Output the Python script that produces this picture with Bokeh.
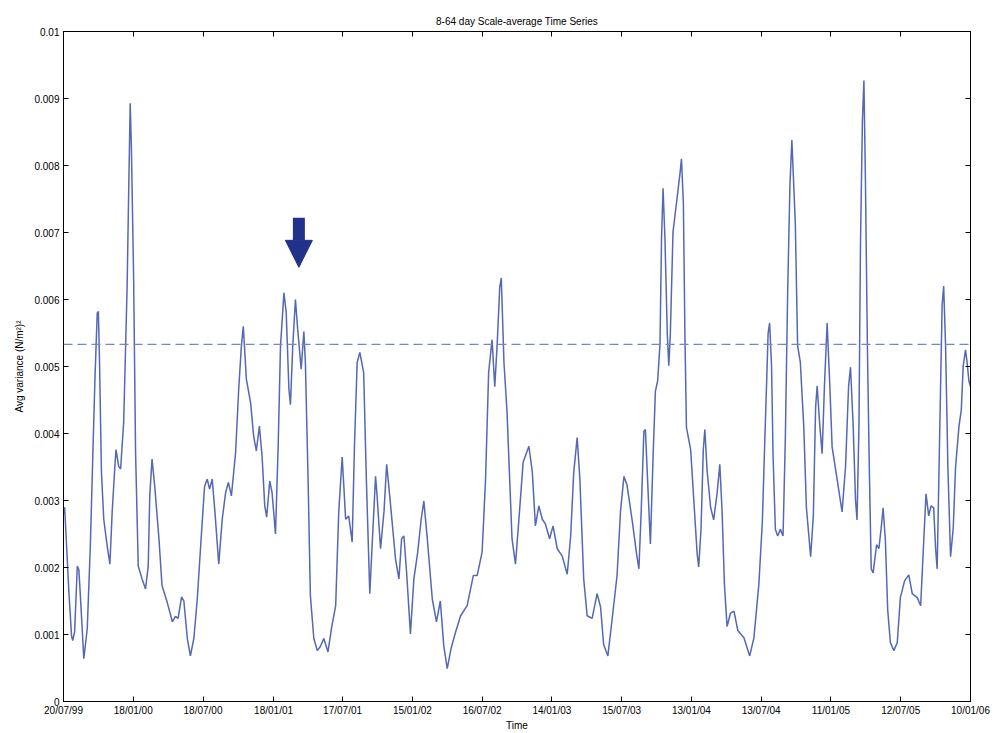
from datetime import datetime
from bokeh.plotting import figure
from bokeh.models import (FixedTicker, LinearAxis, Span, Arrow, NormalHead)
from bokeh.embed import file_html
from bokeh.resources import INLINE

# ---------------- data ----------------
start_label = "20/07/99"
x_tick_labels = ["20/07/99", "18/01/00", "18/07/00", "18/01/01", "17/07/01", "15/01/02",
                 "16/07/02", "14/01/03", "15/07/03", "13/01/04", "13/07/04", "11/01/05",
                 "12/07/05", "10/01/06"]
y_ticks = [0, 0.001, 0.002, 0.003, 0.004, 0.005, 0.006, 0.007, 0.008, 0.009, 0.01]
y_tick_labels = ["0", "0.001", "0.002", "0.003", "0.004", "0.005", "0.006", "0.007",
                 "0.008", "0.009", "0.01"]

# days since 20/07/99
days = [0, 3, 14, 21, 24, 29, 36, 40, 44, 53, 62, 70, 76, 82, 88, 91, 94, 99, 105, 114,
        121, 127, 134, 137, 144, 149, 157, 162, 166, 170, 174, 177, 183, 188, 195, 205,
        214, 221, 225, 231, 238, 249, 257, 270, 284, 292, 299, 308, 314, 323, 331, 340,
        349, 359, 368, 375, 381, 388, 395, 405, 414, 423, 430, 438, 449, 457, 464, 469,
        477, 488, 496, 503, 511, 518, 525, 530, 538, 544, 553, 560, 566, 575, 581, 588,
        592, 598, 605, 611, 620, 627, 631, 638, 644, 653, 662, 670, 679, 690, 699, 710,
        718, 727, 736, 744, 753, 759, 766, 773, 783, 790, 799, 805, 814, 818, 827, 836,
        843, 851, 866, 875, 882, 888, 895, 905, 914, 924, 933, 940, 949, 962, 973, 983,
        992, 1001, 1011, 1023, 1036, 1053, 1069, 1079, 1092, 1101, 1109, 1118, 1125, 1131,
        1138, 1142, 1149, 1157, 1170, 1179, 1188, 1199, 1214, 1223, 1231, 1240, 1249, 1257,
        1268, 1277, 1288, 1301, 1314, 1323, 1331, 1340, 1347, 1357, 1366, 1379, 1392, 1401,
        1409, 1420, 1431, 1444, 1453, 1462, 1470, 1484, 1495, 1501, 1507, 1514, 1518, 1523,
        1531, 1538, 1544, 1550, 1556, 1560, 1564, 1569, 1575, 1579, 1583, 1590, 1599, 1608,
        1612, 1617, 1621, 1625, 1636, 1646, 1653, 1657, 1663, 1669, 1673, 1679, 1688, 1696,
        1705, 1712, 1718, 1724, 1731, 1740, 1749, 1759, 1775, 1790, 1801, 1814, 1823, 1829,
        1834, 1838, 1842, 1847, 1851, 1857, 1863, 1870, 1877, 1883, 1889, 1895, 1900, 1909,
        1915, 1922, 1931, 1938, 1949, 1956, 1962, 1966, 1973, 1979, 1985, 1992, 1999, 2005,
        2018, 2031, 2040, 2048, 2053, 2060, 2066, 2070, 2075, 2079, 2084, 2088, 2092, 2097,
        2102, 2107, 2112, 2121, 2127, 2133, 2138, 2144, 2150, 2157, 2166, 2175, 2183, 2194,
        2205, 2214, 2227, 2236, 2243, 2250, 2257, 2263, 2270, 2275, 2279, 2286, 2292, 2296,
        2301, 2307, 2314, 2321, 2327, 2336, 2342, 2347, 2353, 2357, 2362, 2366]

variance = [0.0028, 0.0029, 0.00164, 0.00098, 0.00091, 0.00104, 0.00202, 0.00197, 0.00158,
            0.00064, 0.00109, 0.00232, 0.00357, 0.00481, 0.0058, 0.00582, 0.00506, 0.00342,
            0.00272, 0.00232, 0.00205, 0.00283, 0.00351, 0.00376, 0.00351, 0.00347, 0.00417,
            0.0053, 0.0062, 0.0076, 0.00893, 0.0083, 0.0063, 0.00372, 0.00202, 0.00183,
            0.00168, 0.00202, 0.00307, 0.00362, 0.00321, 0.00243, 0.00173, 0.00149, 0.00119,
            0.00127, 0.00124, 0.00156, 0.0015, 0.00094, 0.00068, 0.00094, 0.00153, 0.00243,
            0.00321, 0.00332, 0.00317, 0.00332, 0.00283, 0.00205, 0.00272, 0.00312, 0.00327,
            0.00307, 0.00372, 0.00466, 0.0053, 0.0056, 0.00481, 0.00446, 0.00396, 0.00374,
            0.00411, 0.00366, 0.00292, 0.00275, 0.00329, 0.00312, 0.0025, 0.00381, 0.0053,
            0.0061, 0.0058, 0.00466, 0.00443, 0.0053, 0.006, 0.00555, 0.00496, 0.00552,
            0.00506, 0.00332, 0.00158, 0.00094, 0.00076, 0.00082, 0.00094, 0.00074, 0.00109,
            0.00143, 0.00283, 0.00365, 0.00272, 0.00277, 0.00238, 0.00381, 0.00506, 0.00521,
            0.00491, 0.00332, 0.00161, 0.00232, 0.00336, 0.00307, 0.00228, 0.00283, 0.00354,
            0.00307, 0.00213, 0.00183, 0.00243, 0.00247, 0.00193, 0.00101, 0.00183, 0.00223,
            0.00272, 0.00299, 0.00243, 0.00153, 0.00119, 0.0015, 0.00083, 0.00049, 0.00079,
            0.00104, 0.00128, 0.00143, 0.00188, 0.00188, 0.00223, 0.00332, 0.00491, 0.0054,
            0.0047, 0.0053, 0.00619, 0.00632, 0.00506, 0.00432, 0.00243, 0.00205, 0.00272,
            0.00357, 0.00381, 0.00342, 0.00262, 0.00292, 0.00272, 0.00265, 0.00243, 0.00262,
            0.00228, 0.00217, 0.0019, 0.00247, 0.00342, 0.00394, 0.00332, 0.00183, 0.00128,
            0.00124, 0.00161, 0.00141, 0.00085, 0.00068, 0.00122, 0.00188, 0.00284, 0.00336,
            0.00323, 0.00268, 0.0022, 0.00198, 0.00284, 0.00403, 0.00406, 0.00339, 0.00235,
            0.00366, 0.00463, 0.00479, 0.00533, 0.0069, 0.00766, 0.0069, 0.00549, 0.00501,
            0.00549, 0.00701, 0.00744, 0.00787, 0.0081, 0.00744, 0.00549, 0.00409, 0.00376,
            0.00284, 0.0022, 0.00201, 0.00257, 0.00376, 0.00406, 0.00344, 0.0029, 0.00271,
            0.00311, 0.00354, 0.00284, 0.00176, 0.00112, 0.00132, 0.00135, 0.00106, 0.00095,
            0.00068, 0.00095, 0.00176, 0.00268, 0.00382, 0.00473, 0.00549, 0.00565, 0.00501,
            0.00366, 0.00257, 0.00247, 0.00257, 0.00247, 0.00393, 0.00609, 0.00771, 0.00838,
            0.00714, 0.00531, 0.00507, 0.00411, 0.00289, 0.00216, 0.00277, 0.0044, 0.00471,
            0.00411, 0.0037, 0.00471, 0.00565, 0.00472, 0.0038, 0.00332, 0.00283, 0.0035,
            0.00471, 0.00499, 0.00411, 0.00301, 0.00271, 0.00411, 0.00683, 0.00866, 0.00927,
            0.00775, 0.00531, 0.0035, 0.00198, 0.00192, 0.00234, 0.00228, 0.00259, 0.00289,
            0.0024, 0.00137, 0.00088, 0.00076, 0.00088, 0.00155, 0.0018, 0.00189, 0.00161,
            0.00155, 0.00143, 0.00228, 0.0031, 0.00277, 0.00292, 0.00289, 0.00228, 0.00198,
            0.00411, 0.00592, 0.0062, 0.00531, 0.0035, 0.00216, 0.00259, 0.0035, 0.00411,
            0.00435, 0.00501, 0.00525, 0.00507, 0.00478, 0.0047]

threshold = 0.00533          # dashed significance level
arrow_day = 614              # arrow marking an event
arrow_top = 0.00722
arrow_tip = 0.00648

# ---------------- derived ticks ----------------
t0 = datetime.strptime(start_label, "%d/%m/%y")
x_ticks = [(datetime.strptime(s, "%d/%m/%y") - t0).days for s in x_tick_labels]

FONT = "Liberation Sans"

p = figure(width=996, height=733, x_range=(x_ticks[0], x_ticks[-1]), y_range=(0, 0.01),
           output_backend="svg", toolbar_location=None,
           min_border_left=63, min_border_right=26, min_border_top=31, min_border_bottom=20)
p.background_fill_color = "white"
p.border_fill_color = "white"
p.xgrid.visible = False
p.ygrid.visible = False
p.outline_line_color = "black"
p.outline_line_width = 1

p.title.text = "8-64 day Scale-average Time Series"
p.title.align = "center"
p.title.text_font = FONT
p.title.text_font_size = "10px"
p.title.text_font_style = "normal"
p.title.text_color = "black"

def style(ax):
    ax.major_tick_in = 5
    ax.major_tick_out = 0
    ax.minor_tick_line_color = None
    ax.axis_line_color = "black"
    ax.major_tick_line_color = "black"
    ax.major_label_text_font = FONT
    ax.major_label_text_font_size = "10px"
    ax.major_label_text_color = "black"
    ax.axis_label_text_font = FONT
    ax.axis_label_text_font_size = "10px"
    ax.axis_label_text_font_style = "normal"
    ax.axis_label_text_color = "black"

xt = FixedTicker(ticks=x_ticks, minor_ticks=[])
yt = FixedTicker(ticks=y_ticks, minor_ticks=[])

p.xaxis.ticker = xt
p.xaxis.major_label_overrides = {t: s for t, s in zip(x_ticks, x_tick_labels)}
p.xaxis.axis_label = "Time"
p.xaxis.axis_label_standoff = 1
p.xaxis.major_label_standoff = 3
style(p.xaxis[0])

p.yaxis.ticker = yt
p.yaxis.major_label_overrides = {t: s for t, s in zip(y_ticks, y_tick_labels)}
p.yaxis.axis_label = "Avg variance (N/m²)²"
p.yaxis.axis_label_standoff = 6
p.yaxis.major_label_standoff = 4
style(p.yaxis[0])

# tick-only axes on top and right (MATLAB style box)
top = LinearAxis(ticker=FixedTicker(ticks=x_ticks, minor_ticks=[]), major_label_standoff=0)
style(top)
top.major_label_text_font_size = "0px"
top.major_label_text_alpha = 0
right = LinearAxis(ticker=FixedTicker(ticks=y_ticks, minor_ticks=[]), major_label_standoff=0)
style(right)
right.major_label_text_font_size = "0px"
right.major_label_text_alpha = 0
top.major_label_overrides = {t: "" for t in x_ticks}
right.major_label_overrides = {t: "" for t in y_ticks}
p.add_layout(top, "above")
p.add_layout(right, "right")

p.line(days, variance, line_color="#5468b4", line_width=1.5)

p.add_layout(Span(location=threshold, dimension="width", line_color="#7585c6",
                  line_dash="9 5", line_width=1.3))

p.add_layout(Arrow(x_start=arrow_day, y_start=arrow_top, x_end=arrow_day, y_end=arrow_tip,
                   line_color="#22318a", line_width=12,
                   end=NormalHead(size=27, fill_color="#22318a", line_color="#22318a",
                                  line_width=1)))

open("out.html", "w").write(file_html(p, INLINE))
